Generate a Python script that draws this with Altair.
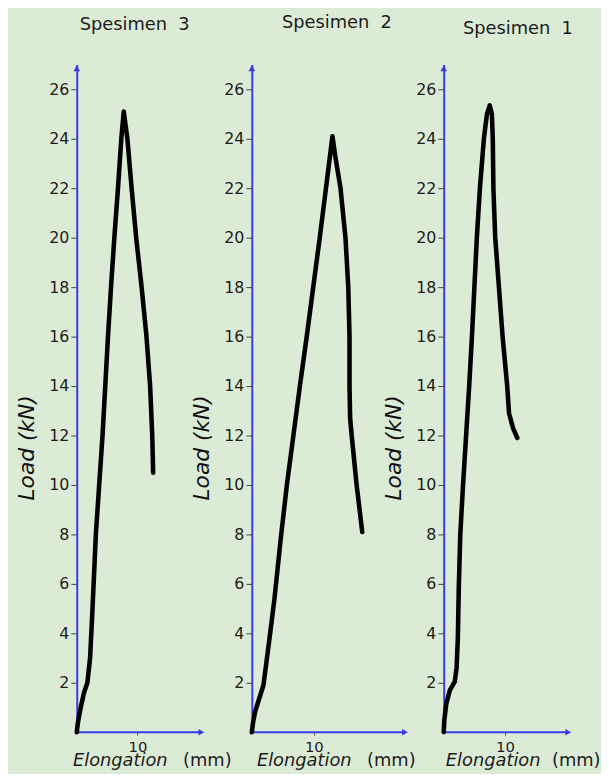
import altair as alt
import pandas as pd

# ---------------- data ----------------
panel_titles = ["Spesimen\u00a0\u00a03", "Spesimen\u00a0\u00a02", "Spesimen\u00a0\u00a01"]
load_ticks = [2, 4, 6, 8, 10, 12, 14, 16, 18, 20, 22, 24, 26]
elong_ticks = [10]
y_title = "Load (kN)"
x_title_italic = "Elongation"
x_title_unit = "(mm)"

# Spesimen 3
s3_x = [0, 0.2, 0.65, 1.2, 1.75, 2.2, 2.6, 3.15, 3.7, 4.25, 4.7, 5.15, 5.65, 6.2, 6.8, 7.35, 7.75,
        8.35, 9.05, 9.8, 10.7, 11.5, 12.1, 12.45, 12.6]
s3_y = [0, 0.4, 1.0, 1.6, 2.0, 3.0, 5.0, 8.0, 10.0, 12.0, 14.0, 16.0, 18.0, 20.0, 22.0, 24.0, 25.1,
        24.0, 22.0, 20.0, 18.0, 16.0, 14.0, 12.0, 10.5]
# Spesimen 2
s2_x = [0, 0.2, 0.55, 1.87, 2.7, 3.65, 4.65, 5.65, 6.7, 7.75, 8.85, 9.9, 10.95, 11.95, 12.6, 13.0,
        13.45, 14.3, 15.1, 15.55, 15.75, 15.75, 15.85, 16.1, 16.9, 17.8]
s2_y = [0, 0.4, 0.85, 1.9, 3.5, 5.4, 7.8, 10.0, 12.0, 14.0, 16.0, 18.0, 20.0, 22.0, 23.3, 24.1,
        23.3, 22.0, 20.0, 18.0, 16.0, 14.0, 12.7, 12.0, 10.0, 8.1]
# Spesimen 1
s1_x = [0, 0.1, 0.43, 1.0, 1.8, 2.1, 2.3, 2.45, 2.7, 3.15, 3.65, 4.15, 4.6, 5.0, 5.4, 5.9, 6.55, 7.05,
        7.5, 7.85, 8.0, 8.1, 8.4, 9.0, 9.6, 10.35, 10.65, 11.3, 12.0]
s1_y = [0, 0.5, 1.17, 1.7, 2.05, 2.6, 3.8, 5.8, 8.0, 10.0, 12.0, 14.0, 16.0, 18.0, 20.0, 22.0, 24.0, 25.0,
        25.35, 25.0, 24.0, 22.0, 20.0, 18.0, 16.0, 14.0, 12.9, 12.3, 11.9]

series_x = [s3_x, s2_x, s1_x]
series_y = [s3_y, s2_y, s1_y]

# ---------------- layout / style ----------------
BLUE = "#3a3ae2"
INK = "#1c1c1c"
FONT = "DejaVu Sans"
HEIGHT = 675
YMAX = 27
widths = [177, 194, 140]
xmax = [28.87, 30.94, 22.58]
axis_end = [20.55, 24.7, 20.3]
title_dx = [-30, -11, 5]
title_offset = [17, 19, 13]
elong_cx = [44, 53, 50]
unit_cx = [132, 141, 134]
XTITLE_Y = 709


def panel(i):
    df = pd.DataFrame({"x": series_x[i], "y": series_y[i], "i": list(range(len(series_x[i])))})
    xs = alt.Scale(domain=[0, xmax[i]], nice=False, zero=False)
    ys = alt.Scale(domain=[0, YMAX], nice=False, zero=False)
    xaxis = alt.Axis(values=elong_ticks, domain=False, grid=False, tickColor="#555", tickSize=3,
                     tickWidth=1, labelFont=FONT, labelFontSize=15, labelColor=INK, labelPadding=4,
                     title=None)
    yaxis = alt.Axis(values=load_ticks, domain=True, domainColor=BLUE, domainWidth=2, grid=False,
                     tickColor="#444", tickSize=6, tickWidth=1, labelFont=FONT, labelFontSize=16,
                     labelColor=INK, labelPadding=2, title=y_title, titleFont=FONT,
                     titleFontStyle="italic", titleFontWeight="normal", titleFontSize=22,
                     titleColor="#111", titleAngle=270, titleX=-44, titleY=387,
                     titleAlign="center", titleBaseline="alphabetic")
    X = alt.X("x:Q", scale=xs, axis=xaxis)
    Y = alt.Y("y:Q", scale=ys, axis=yaxis)

    line = alt.Chart(df).mark_line(color="#000", strokeWidth=4.6, strokeCap="round",
                                   strokeJoin="round").encode(x=X, y=Y, order="i:Q")

    ax_df = pd.DataFrame({"x": [0.0], "x2": [axis_end[i]], "y": [0.0]})
    xrule = alt.Chart(ax_df).mark_rule(color=BLUE, strokeWidth=2).encode(x=X, x2="x2:Q", y=Y)

    arr_df = pd.DataFrame({"x": [axis_end[i], 0.0], "y": [0.0, YMAX - 0.15],
                           "s": ["triangle-right", "triangle-up"]})
    arrows = alt.Chart(arr_df).mark_point(filled=True, color=BLUE, size=45, opacity=1).encode(
        x=X, y=Y, shape=alt.Shape("s:N", scale=None, legend=None))

    t1 = alt.Chart(pd.DataFrame({"t": [x_title_italic]})).mark_text(
        font=FONT, fontSize=18, fontStyle="italic", color=INK, align="center", baseline="alphabetic"
    ).encode(x=alt.value(elong_cx[i]), y=alt.value(XTITLE_Y), text="t:N")
    t2 = alt.Chart(pd.DataFrame({"t": [x_title_unit]})).mark_text(
        font=FONT, fontSize=18, color=INK, align="center", baseline="alphabetic"
    ).encode(x=alt.value(unit_cx[i]), y=alt.value(XTITLE_Y), text="t:N")

    return alt.layer(xrule, line, arrows, t1, t2).properties(
        width=widths[i], height=HEIGHT,
        title=alt.TitleParams(panel_titles[i], font=FONT, fontSize=18, fontWeight="normal",
                              color=INK, anchor="middle", baseline="alphabetic",
                              dx=title_dx[i], offset=title_offset[i]))


chart = alt.hconcat(panel(0), panel(1), panel(2), spacing=0, bounds="flush").properties(
    padding={"left": 7.5, "top": 2, "right": 0, "bottom": 0}
).configure(background="#dcebd5").configure_view(strokeWidth=0)

chart.save("out.html", embed_options={"renderer": "svg", "actions": False})
